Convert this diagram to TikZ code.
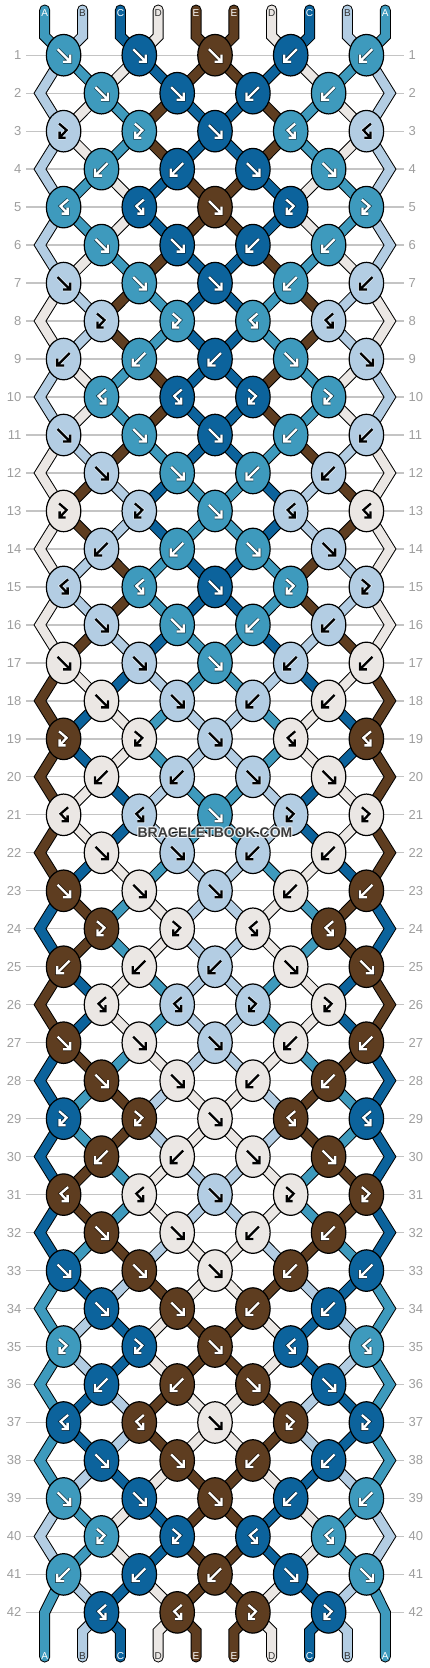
\documentclass[tikz,border=0pt]{standalone}
\usepackage{fontspec}
\setmainfont{Liberation Sans}
\usetikzlibrary{shapes.geometric}
\definecolor{colA}{HTML}{3E9ABD}
\definecolor{colB}{HTML}{B3CDE3}
\definecolor{colC}{HTML}{0C639C}
\definecolor{colD}{HTML}{EBE7E4}
\definecolor{colE}{HTML}{5E3D20}
\colorlet{aiA}{white}\colorlet{aiC}{white}\colorlet{aiE}{white}
\colorlet{aiB}{black}\colorlet{aiD}{black}
\colorlet{aoA}{black}\colorlet{aoC}{black}\colorlet{aoE}{black}
\colorlet{aoB}{white}\colorlet{aoD}{white}
\definecolor{txdark}{HTML}{333333}
\colorlet{tcA}{white}\colorlet{tcC}{white}\colorlet{tcE}{white}
\colorlet{tcB}{txdark}\colorlet{tcD}{txdark}
\definecolor{rowgray}{HTML}{C4C4C4}
\definecolor{numgray}{HTML}{9E9E9E}
\definecolor{wmgray}{HTML}{3C3C3C}

\tikzset{
  str/.style={draw=black, line width=1pt, double=col#1, double distance=9pt, line cap=round, line join=miter},
  knot/.style={ellipse, draw=black, line width=1.2pt, fill=col#1, minimum width=34.5pt, minimum height=41.5pt, inner sep=0pt},
  arrout/.style={draw=ao#1, line width=3.8pt, line join=miter, opacity=0.6},
  arrin/.style={draw=ai#1, line width=2.3pt, line join=miter},
  rowline/.style={draw=rowgray, line width=1.3pt},
  rownum/.style={text=numgray, font=\fontsize{13}{15}\selectfont, inner sep=0pt},
  strlabel/.style={text=tc#1, font=\fontsize{10}{12}\selectfont, inner sep=0pt},
  wm/.style={font=\bfseries\fontsize{14}{16}\selectfont, inner sep=0pt}
}

% ---------- simulation of the strings ----------
\def\setst#1#2{\expandafter\xdef\csname st-#1\endcsname{#2}}
\def\getst#1{\csname st-#1\endcsname}
\def\defrow#1#2{\expandafter\gdef\csname rt-#1\endcsname{#2}}
\def\kopf{\let\kc\tL\setst{\lp}{\tR}\setst{\rp}{\tL}}
\def\kopb{\let\kc\tR\setst{\lp}{\tR}\setst{\rp}{\tL}}
\def\kopfb{\let\kc\tL}
\def\kopbf{\let\kc\tR}

\setst{0}{A}\setst{1}{B}\setst{2}{C}\setst{3}{D}\setst{4}{E}
\setst{5}{E}\setst{6}{D}\setst{7}{C}\setst{8}{B}\setst{9}{A}

\defrow{1}{f,f,f,b,b}
\defrow{2}{f,f,b,b}
\defrow{3}{fb,fb,f,bf,bf}
\defrow{4}{b,b,f,f}
\defrow{5}{bf,bf,f,fb,fb}
\defrow{6}{f,f,b,b}
\defrow{7}{f,f,f,b,b}
\defrow{8}{fb,fb,bf,bf}
\defrow{9}{b,b,b,f,f}
\defrow{10}{bf,bf,fb,fb}
\defrow{11}{f,f,f,b,b}
\defrow{12}{f,f,b,b}
\defrow{13}{fb,fb,f,bf,bf}
\defrow{14}{b,b,f,f}
\defrow{15}{bf,bf,f,fb,fb}
\defrow{16}{f,f,b,b}
\defrow{17}{f,f,f,b,b}
\defrow{18}{f,f,b,b}
\defrow{19}{fb,fb,f,bf,bf}
\defrow{20}{b,b,f,f}
\defrow{21}{bf,bf,f,fb,fb}
\defrow{22}{f,f,b,b}
\defrow{23}{f,f,f,b,b}
\defrow{24}{fb,fb,bf,bf}
\defrow{25}{b,b,b,f,f}
\defrow{26}{bf,bf,fb,fb}
\defrow{27}{f,f,f,b,b}
\defrow{28}{f,f,b,b}
\defrow{29}{fb,fb,f,bf,bf}
\defrow{30}{b,b,f,f}
\defrow{31}{bf,bf,f,fb,fb}
\defrow{32}{f,f,b,b}
\defrow{33}{f,f,f,b,b}
\defrow{34}{f,f,b,b}
\defrow{35}{fb,fb,f,bf,bf}
\defrow{36}{b,b,f,f}
\defrow{37}{bf,bf,f,fb,fb}
\defrow{38}{f,f,b,b}
\defrow{39}{f,f,f,b,b}
\defrow{40}{fb,fb,bf,bf}
\defrow{41}{b,b,b,f,f}
\defrow{42}{bf,bf,fb,fb}

\foreach \rr in {1,...,42}{%
  \foreach \pp in {0,...,9}{\expandafter\xdef\csname c-\rr-\pp\endcsname{\getst{\pp}}}%
  \ifodd\rr\relax \def\off{0}\else\def\off{1}\fi
  \edef\tlist{\csname rt-\rr\endcsname}%
  \foreach \ty [count=\kk from 0] in \tlist {%
    \pgfmathtruncatemacro\lp{2*\kk+\off}%
    \pgfmathtruncatemacro\rp{\lp+1}%
    \edef\tL{\getst{\lp}}\edef\tR{\getst{\rp}}%
    \csname kop\ty\endcsname
    \expandafter\xdef\csname kc-\rr-\kk\endcsname{\kc}%
    \expandafter\xdef\csname kt-\rr-\kk\endcsname{\ty}%
  }%
}
\foreach \pp in {0,...,9}{\expandafter\xdef\csname c-43-\pp\endcsname{\getst{\pp}}}

% anchor of position #2 in row #1 -> \ax, \ay
\def\ancr#1#2{%
  \pgfmathsetmacro\ay{55.2+(#1-1)*37.98}%
  \ifodd#1\relax
    \pgfmathsetmacro\ax{63.6+75.7*floor(#2/2)}%
  \else
    \ifnum#2=0 \def\ax{40}%
    \else\ifnum#2=9 \def\ax{390}%
    \else\pgfmathsetmacro\ax{101.5+75.7*floor((#2-1)/2)}%
    \fi\fi
  \fi}

\def\edgeseg{%
  \ifnum\rr=42
    \pgfmathsetmacro\sxx{44.7+37.84*\pp}%
    \draw[str=\sc] (\px,\py) -- (\sxx,\by) -- (\sxx,1657);
  \else
    \pgfmathtruncatemacro\rn{\rr+1}%
    \ancr{\rn}{\pp}%
    \draw[str=\sc] (\px,\py) -- (\bx,\by) -- (\ax,\ay);
  \fi}

% icons
\def\drawicon#1#2{\draw[arrout=#1] #2;\draw[arrin=#1] #2;}
\def\icf#1{\drawicon{#1}{(-6,-6) -- (6.5,6.5) (-0.5,6.5) -- (6.5,6.5) -- (6.5,-0.5)}}
\def\icb#1{\drawicon{#1}{(6,-6) -- (-6.5,6.5) (0.5,6.5) -- (-6.5,6.5) -- (-6.5,-0.5)}}
\def\icfb#1{\drawicon{#1}{(-4.5,-7.5) -- (3,-1) -- (-4,6.5) (-4,0.5) -- (-4,6.5) -- (2,6.5)}}
\def\icbf#1{\drawicon{#1}{(4.5,-7.5) -- (-3,-1) -- (4,6.5) (4,0.5) -- (4,6.5) -- (-2,6.5)}}

\begin{document}
\begin{tikzpicture}[x=1pt,y=-1pt]
\fill[white] (0,0) rectangle (430,1668);
\useasboundingbox (0,0) rectangle (430,1668);

% row lines and numbers
\foreach \rr in {1,...,42}{%
  \pgfmathsetmacro\ly{55.2+(\rr-1)*37.98}%
  \node[rownum, anchor=east] (L\rr) at (21.5,\ly) {\rr};
  \node[rownum, anchor=west] (R\rr) at (408.5,\ly) {\rr};
  \draw[rowline] ([xshift=4.5pt]L\rr.east) -- ([xshift=-4.5pt]R\rr.west);
}

% strings
\foreach \rr in {1,...,42}{%
  \foreach \pp in {0,...,9}{%
    \edef\sc{\csname c-\rr-\pp\endcsname}%
    \ancr{\rr}{\pp}\let\bx\ax\let\by\ay
    \ifnum\rr=1
      \pgfmathsetmacro\sxx{44.7+37.84*\pp}%
      \pgfmathsetmacro\bend{\by-abs(\bx-\sxx)}%
      \draw[str=\sc] (\sxx,10) -- (\sxx,\bend) -- (\bx,\by);
    \else
      \pgfmathtruncatemacro\rpv{\rr-1}%
      \ancr{\rpv}{\pp}\let\px\ax\let\py\ay
      \ifodd\rr\relax
        \ifnum\pp=0 \else\ifnum\pp=9 \else
          \draw[str=\sc] (\px,\py) -- (\bx,\by);
        \fi\fi
      \else
        \ifnum\pp=0 \edgeseg\else\ifnum\pp=9 \edgeseg\else
          \draw[str=\sc] (\px,\py) -- (\bx,\by);
        \fi\fi
      \fi
    \fi
  }%
}
% bottom ends
\foreach \pp in {1,...,8}{%
  \edef\sc{\csname c-43-\pp\endcsname}%
  \ancr{42}{\pp}%
  \pgfmathsetmacro\sxx{44.7+37.84*\pp}%
  \pgfmathsetmacro\bend{\ay+abs(\ax-\sxx)}%
  \draw[str=\sc] (\ax,\ay) -- (\sxx,\bend) -- (\sxx,1657);
}

% knots
\foreach \rr in {1,...,42}{%
  \ifodd\rr\relax \def\nk{4}\def\kxz{63.6}\else\def\nk{3}\def\kxz{101.5}\fi
  \pgfmathsetmacro\ky{55.2+(\rr-1)*37.98}%
  \foreach \kk in {0,...,\nk}{%
    \edef\kcl{\csname kc-\rr-\kk\endcsname}%
    \edef\ktp{\csname kt-\rr-\kk\endcsname}%
    \pgfmathsetmacro\kx{\kxz+75.7*\kk}%
    \node[knot=\kcl] (k\rr-\kk) at (\kx,\ky) {};
    \begin{scope}[shift={(\kx,\ky)}]
      \csname ic\ktp\endcsname{\kcl}
    \end{scope}
  }%
}

% string letters
\foreach \pp in {0,...,9}{%
  \pgfmathsetmacro\sxx{44.7+37.84*\pp}%
  \edef\lt{\csname c-1-\pp\endcsname}%
  \edef\lb{\csname c-43-\pp\endcsname}%
  \node[strlabel=\lt] (T\pp) at (\sxx,12.7) {\lt};
  \node[strlabel=\lb] (B\pp) at (\sxx,1656.5) {\lb};
}

% watermark
\foreach \dx/\dy [count=\i] in {1/0,-1/0,0/1,0/-1,1/1,-1/-1,1/-1,-1/1}{%
  \node[wm, text=white, opacity=0.5] (h\i) at (215+\dx,833+\dy) {BRACELETBOOK.COM};
}
\node[wm, text=wmgray] (wm) at (215,833) {BRACELETBOOK.COM};
\end{tikzpicture}
\end{document}
